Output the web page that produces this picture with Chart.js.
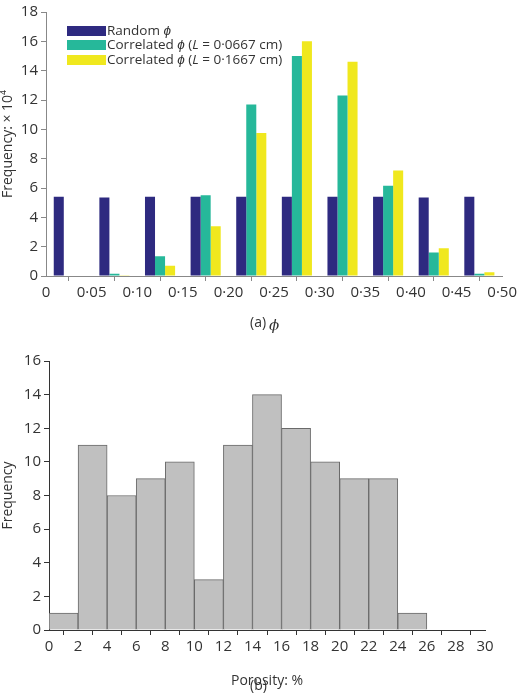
<!DOCTYPE html>
<html><head><meta charset="utf-8">
<script src="https://cdn.jsdelivr.net/npm/chart.js@4"></script>
<style>
body{margin:0;background:#fff;font-family:"Open Sans",sans-serif;}
#wa{position:absolute;left:0;top:0;width:520px;height:335px;}
#wb{position:absolute;left:0;top:340px;width:520px;height:353px;}
.lab{position:absolute;font-size:14px;color:#333;white-space:nowrap;}
.lg{position:absolute;left:67px;font-size:13.5px;color:#333;white-space:nowrap;line-height:15px;}
.lg span{display:inline-block;width:39px;height:10px;vertical-align:middle;margin-right:1px;}
</style></head><body>
<div id="wa"><canvas id="ca"></canvas></div>
<div id="wb"><canvas id="cb"></canvas></div>
<div class="lg" style="top:23px"><span style="background:#2e2a80"></span>Random <i>ϕ</i></div>
<div class="lg" style="top:37px"><span style="background:#26b89a"></span>Correlated <i>ϕ</i> (<i>L</i> = 0·0667 cm)</div>
<div class="lg" style="top:52px"><span style="background:#f0e81e"></span>Correlated <i>ϕ</i> (<i>L</i> = 0·1667 cm)</div>
<div class="lab" style="left:250px;top:312px">(a)</div>
<div class="lab" style="left:250px;top:675px">(b)</div>
<script>
const phiCenters=[0.025,0.075,0.125,0.175,0.225,0.275,0.325,0.375,0.425,0.475];
const randomPhi=[5.4,5.35,5.4,5.4,5.4,5.4,5.4,5.4,5.35,5.4];
const corrShort=[0,0.15,1.35,5.5,11.7,15,12.3,6.15,1.6,0.15];
const corrLong=[0,0.05,0.7,3.4,9.75,16,14.6,7.2,1.9,0.25];
const porCenters=[1,3,5,7,9,11,13,15,17,19,21,23,25,27,29];
const porFreq=[1,11,8,9,10,3,11,14,12,10,9,9,1,0,0];
const pts=(xs,ys)=>xs.map((x,i)=>({x:x,y:ys[i]}));
const tickFont={family:"Open Sans",size:15};
const gridOpt={display:true,drawOnChartArea:false,tickLength:5,color:'#888'};
Chart.defaults.animation=false;
Chart.defaults.color='#333';
new Chart(document.getElementById('ca'),{type:'bar',
data:{datasets:[
{data:pts(phiCenters,randomPhi),backgroundColor:'#2e2a80'},
{data:pts(phiCenters,corrShort),backgroundColor:'#26b89a'},
{data:pts(phiCenters,corrLong),backgroundColor:'#f0e81e'}]},
options:{responsive:true,maintainAspectRatio:false,layout:{padding:{top:8,right:13,left:0}},
plugins:{legend:{display:false},tooltip:{enabled:false}},
datasets:{bar:{categoryPercentage:0.66,barPercentage:1}},
scales:{
x:{type:'linear',min:0,max:0.5,offset:false,grid:gridOpt,border:{color:'#888'},
ticks:{stepSize:0.05,font:tickFont,maxRotation:0,callback:v=>v===0?'0':v.toFixed(2).replace('.','·')},
title:{display:true,text:'ϕ',font:{family:"DejaVu Serif",size:15,style:'italic'},padding:0},
afterFit:s=>{s.height=59;}},
y:{min:0,max:18,grid:gridOpt,border:{color:'#888'},ticks:{stepSize:2,font:tickFont},
title:{display:true,text:'Frequency: × 10⁴',font:{family:"Open Sans",size:14},padding:0},
afterFit:s=>{s.width=46;}}}}});
new Chart(document.getElementById('cb'),{type:'bar',
data:{datasets:[{data:pts(porCenters,porFreq),backgroundColor:'#c0c0c0',borderColor:'#6a6a6a',borderWidth:1}]},
options:{responsive:true,maintainAspectRatio:false,layout:{padding:{top:21,right:35,left:0}},
plugins:{legend:{display:false},tooltip:{enabled:false}},
datasets:{bar:{categoryPercentage:1,barPercentage:1}},
scales:{
x:{type:'linear',min:0,max:30,offset:false,grid:{...gridOpt,color:'#333'},border:{color:'#333'},
ticks:{stepSize:2,font:tickFont,maxRotation:0},
title:{display:true,text:'Porosity: %',font:{family:"Open Sans",size:14},padding:{top:2}},
afterFit:s=>{s.height=63;}},
y:{min:0,max:16,grid:{...gridOpt,color:'#333'},border:{color:'#333'},ticks:{stepSize:2,font:tickFont},
title:{display:true,text:'Frequency',font:{family:"Open Sans",size:14},padding:0},
afterFit:s=>{s.width=49;}}}}});
</script></body></html>
